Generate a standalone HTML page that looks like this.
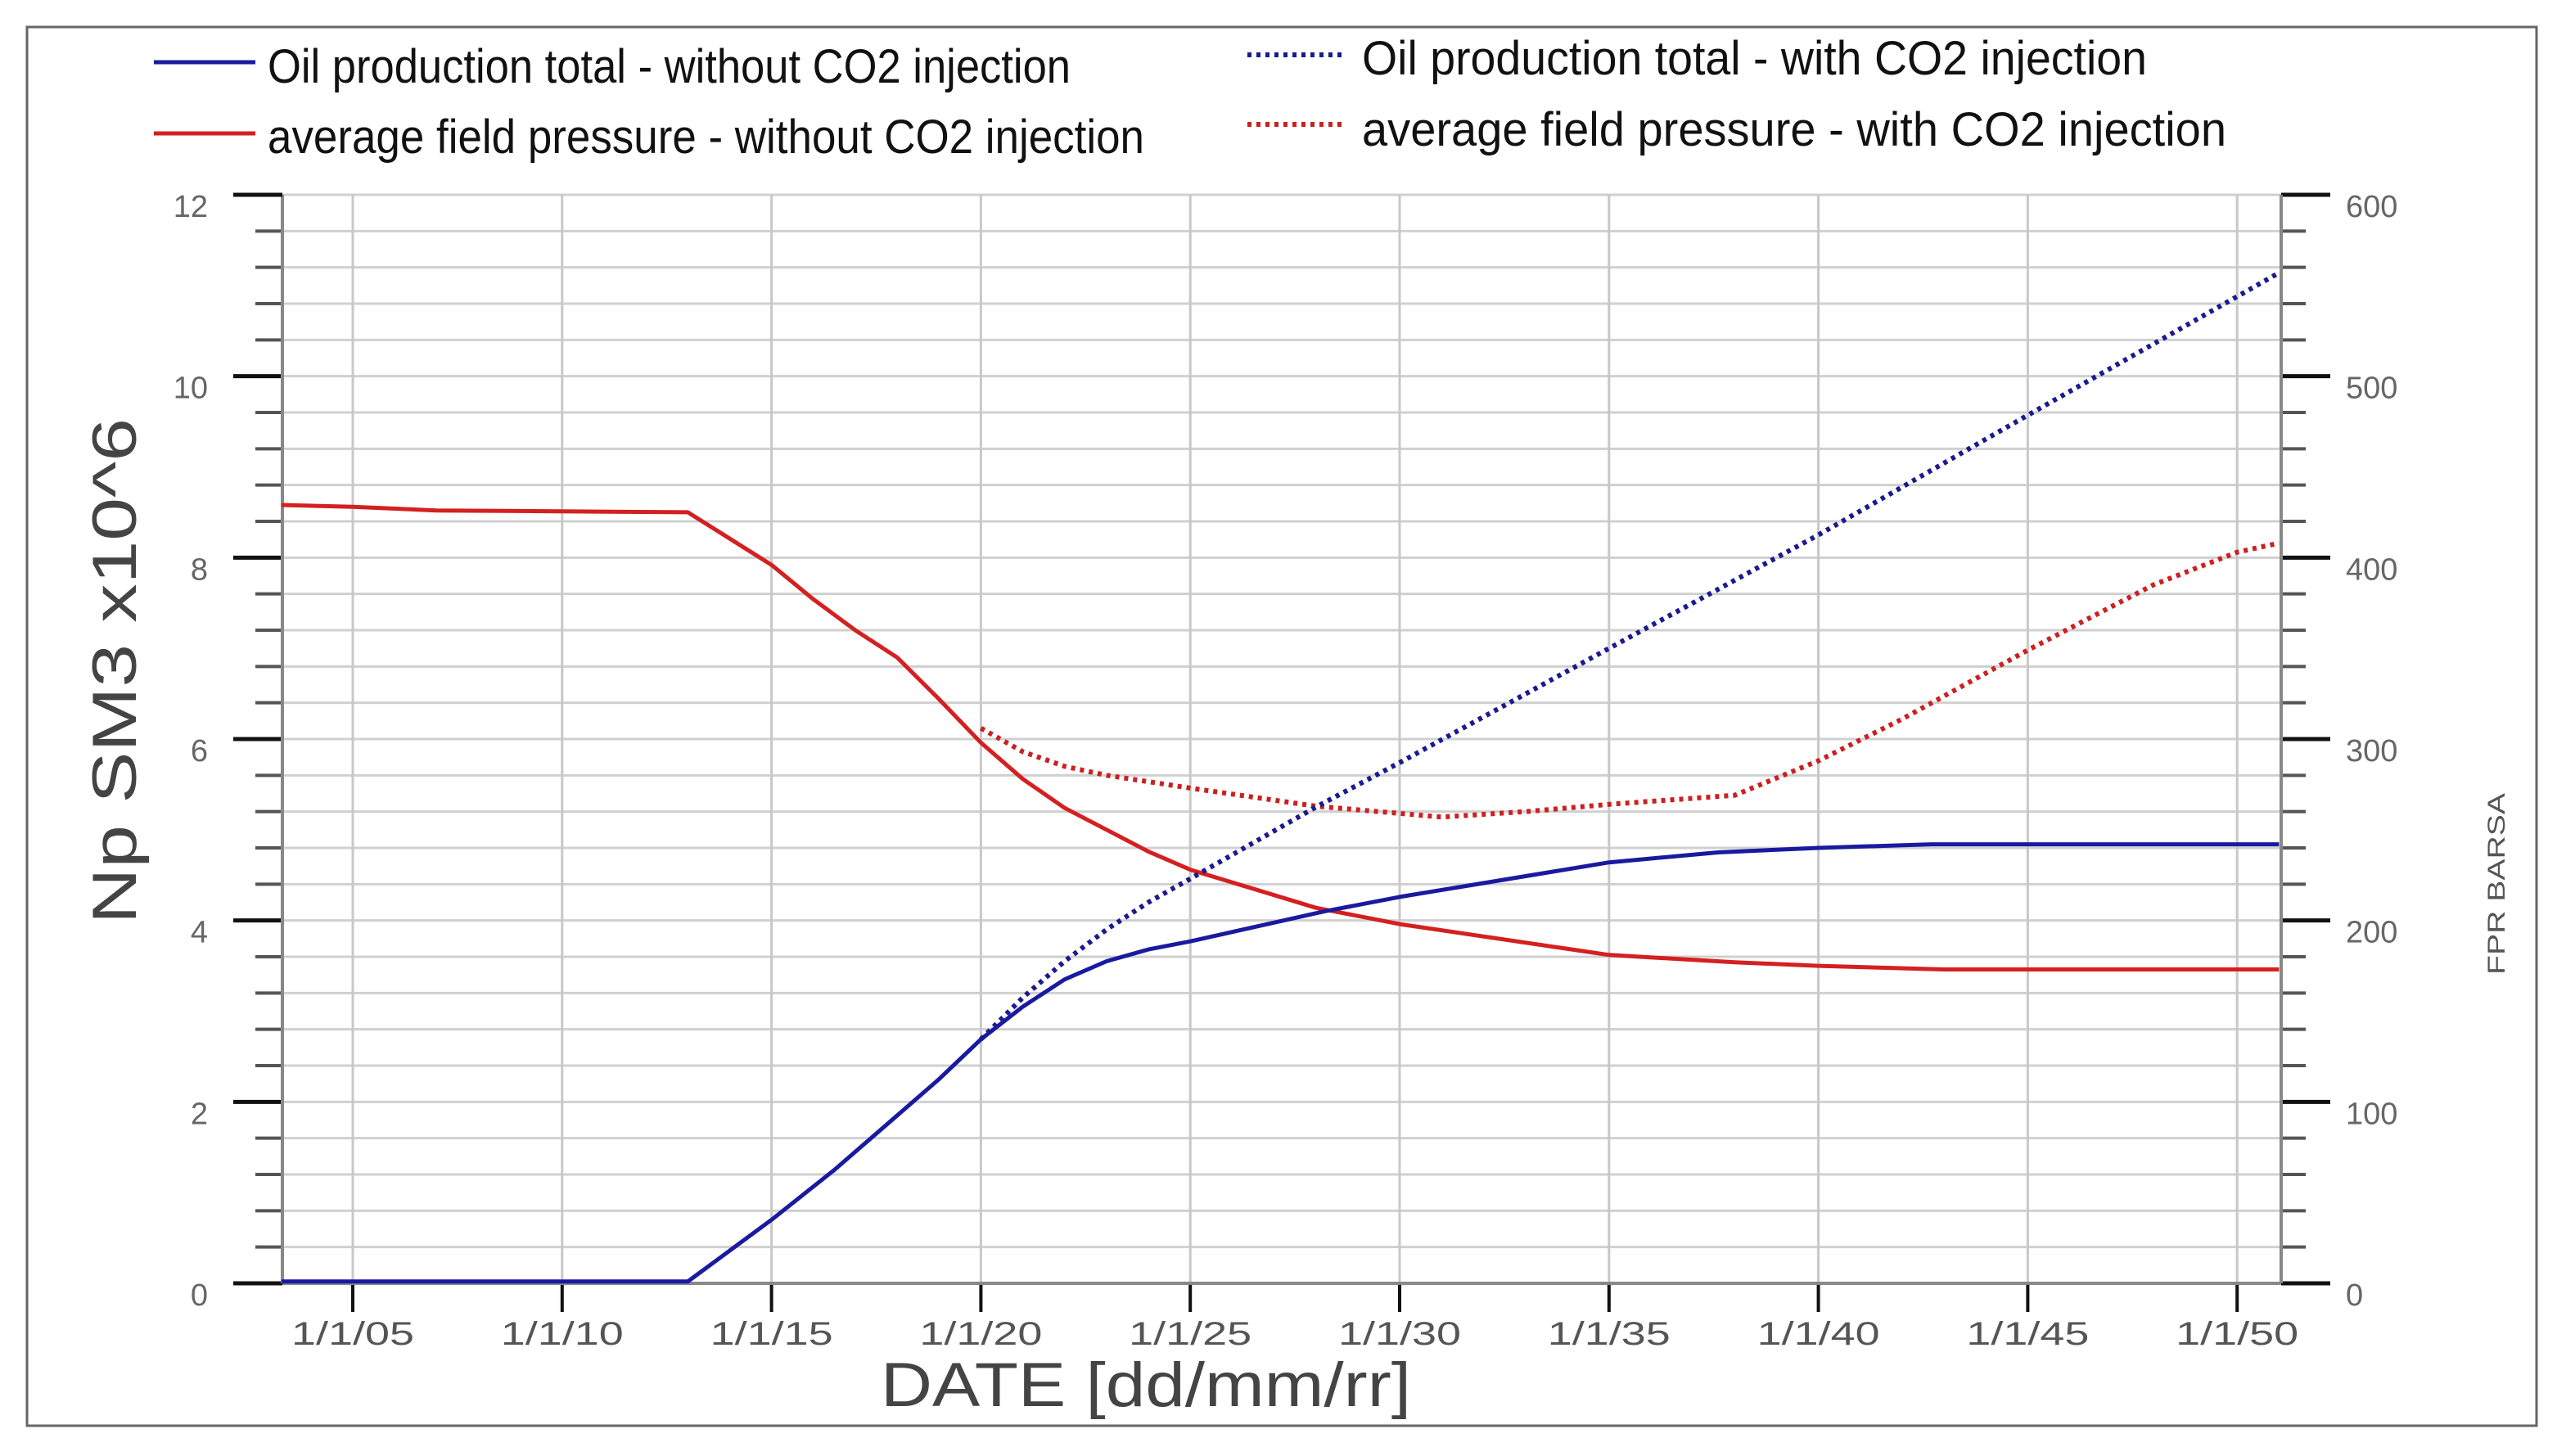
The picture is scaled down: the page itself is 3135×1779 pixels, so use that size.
<!DOCTYPE html>
<html><head><meta charset="utf-8"><style>
html,body{margin:0;padding:0;background:#fff;}
svg{display:block;}
text{font-family:"Liberation Sans",sans-serif;}
</style></head><body>
<svg id="chart" width="3135" height="1779" viewBox="0 0 3135 1779" xmlns="http://www.w3.org/2000/svg">
<rect x="33" y="33" width="3066" height="1709" fill="#fff" stroke="#666" stroke-width="3"/>
<g id="grid"></g>
<g id="axes"></g>
<g id="series"></g>
<g>
 <line x1="188" y1="76" x2="312" y2="76" stroke="#1a1aa0" stroke-width="5"/>
 <text x="327" y="101" font-size="58" textLength="981" lengthAdjust="spacingAndGlyphs" fill="#111">Oil production total - without CO2 injection</text>
 <line x1="188" y1="163" x2="312" y2="163" stroke="#d42020" stroke-width="5"/>
 <text x="327" y="187" font-size="58" textLength="1071" lengthAdjust="spacingAndGlyphs" fill="#111">average field pressure - without CO2 injection</text>
 <line x1="1524" y1="67" x2="1640" y2="67" stroke="#1a1a90" stroke-width="6" stroke-dasharray="5 6"/>
 <text x="1664" y="91" font-size="58" textLength="959" lengthAdjust="spacingAndGlyphs" fill="#111">Oil production total - with CO2 injection</text>
 <line x1="1524" y1="152" x2="1640" y2="152" stroke="#cc2020" stroke-width="6" stroke-dasharray="5 6"/>
 <text x="1664" y="178" font-size="58" textLength="1056" lengthAdjust="spacingAndGlyphs" fill="#111">average field pressure - with CO2 injection</text>
</g>
<text x="1400" y="1718" font-size="76" text-anchor="middle" textLength="648" lengthAdjust="spacingAndGlyphs" fill="#444">DATE [dd/mm/rr]</text>
<text transform="translate(166,820) rotate(-90)" font-size="76" text-anchor="middle" textLength="618" lengthAdjust="spacingAndGlyphs" fill="#444">Np SM3  x10^6</text>
<text transform="translate(3060,1080) rotate(-90)" font-size="30" text-anchor="middle" textLength="222" lengthAdjust="spacingAndGlyphs" fill="#555">FPR BARSA</text>
</svg>
<script>
var xTickYears = [2005,2010,2015,2020,2025,2030,2035,2040,2045,2050];
var xTickLabels = ["1/1/05","1/1/10","1/1/15","1/1/20","1/1/25","1/1/30","1/1/35","1/1/40","1/1/45","1/1/50"];
var yTicks = [0,2,4,6,8,10,12];
var y2Ticks = [0,100,200,300,400,500,600];
var oilWithoutYears = [2003.3,2013.0,2015,2016.5,2017.7,2019,2020,2021,2022,2023,2024,2025,2028.2,2030,2035,2037.6,2040,2042.7,2051];
var oilWithoutVals  = [0.02,0.02,0.7,1.25,1.73,2.25,2.69,3.05,3.35,3.55,3.68,3.77,4.1,4.26,4.64,4.75,4.8,4.84,4.84];
var oilWithYears = [2020,2021,2022,2023,2024,2025,2028,2030,2035,2040,2045,2051];
var oilWithVals  = [2.69,3.15,3.55,3.9,4.2,4.46,5.25,5.74,7.0,8.25,9.57,11.14];
var presWithoutYears = [2003.3,2005,2007,2013,2015,2016,2017,2018,2019,2020,2021,2022,2023,2024,2025,2028,2030,2035,2038,2040,2043,2051];
var presWithoutVals  = [429,428,426,425,396,377,360,345,322,298,278,262,250,238,228,207,198,181,177,175,173,173];
var presWithYears = [2020,2021,2022,2023,2025,2028,2031,2033,2035,2038,2040,2042,2045,2048,2050,2051];
var presWithVals  = [306,293,285,280,273,263,257,260,264,269,288,311,349,385,403,408];

var PL=345, PR=2787, PT=238, PB=1568;
function xs(yr){ return 431 + (yr-2005)*51.16; }
function ys(v){ return PB - v*(PB-PT)/12; }
function ys2(p){ return PB - p*(PB-PT)/600; }
var NS="http://www.w3.org/2000/svg";
function mk(tag, attrs, parent){ var e=document.createElementNS(NS,tag); for(var k in attrs) e.setAttribute(k,attrs[k]); parent.appendChild(e); return e; }
var grid=document.getElementById('grid'), axes=document.getElementById('axes'), series=document.getElementById('series');

for (var i=0;i<=30;i++){
  var v=i*0.4, y=ys(v);
  var gl=mk('line',{x1:PL,x2:PR,y1:y,y2:y,stroke:'#d0d0d0','stroke-width':3},grid);
  
  
  var major=(i%5===0);
  var tl=mk('line',{x1:major?285:312,x2:PL,y1:y,y2:y,stroke:major?'#111':'#555','stroke-width':major?5:4},axes);
  
  
  var tr=mk('line',{x1:PR,x2:major?2847:2817,y1:y,y2:y,stroke:major?'#111':'#555','stroke-width':major?5:4},axes);
  
  
}
yTicks.forEach(function(t){
  var e=mk('text',{x:254,y:ys(t)+27,'font-size':38,'text-anchor':'end',fill:'#666'},axes);
  e.textContent=t;
  
  
});
y2Ticks.forEach(function(t){
  var e=mk('text',{x:2866,y:ys2(t)+27,'font-size':38,fill:'#666'},axes);
  e.textContent=t;
  
  
});
xTickYears.forEach(function(yr,i){
  var x=xs(yr);
  var g=mk('line',{x1:x,x2:x,y1:PT,y2:PB,stroke:'#c8c8c8','stroke-width':3},grid);
  
  
  var t=mk('line',{x1:x,x2:x,y1:PB,y2:PB+35,stroke:'#111','stroke-width':4},axes);
  
  
  var l=mk('text',{x:x,y:PB+75,'font-size':40,'text-anchor':'middle',textLength:150,lengthAdjust:'spacingAndGlyphs',fill:'#555'},axes);
  l.textContent=xTickLabels[i];
  
  
});
var ax=[[PL,PT,PL,PB],[PR,PT,PR,PB],[PL,PB,PR,PB]];
ax.forEach(function(a){
  var e=mk('line',{x1:a[0],y1:a[1],x2:a[2],y2:a[3],stroke:'#888','stroke-width':4},axes);
  
  
});
var tp=mk('line',{x1:285,y1:PT,x2:PL,y2:PT,stroke:'#111','stroke-width':5},axes);



function draw(years, vals, yf, color, dashed, name){
  var d='';
  for (var i=0;i<years.length;i++){ d+=(i?'L':'M')+xs(years[i]).toFixed(1)+','+yf(vals[i]).toFixed(1); }
  var p=mk('path',{d:d,fill:'none',stroke:color,'stroke-width':dashed?6:5,'stroke-linejoin':'round'},series);
  if(dashed) p.setAttribute('stroke-dasharray','5 6');
  
  
}
draw(presWithoutYears,presWithoutVals,ys2,'#d42020',false,'pressure-without-line');
draw(presWithYears,presWithVals,ys2,'#cc2020',true,'pressure-with-line');
draw(oilWithoutYears,oilWithoutVals,ys,'#1a1aa0',false,'oil-without-line');
draw(oilWithYears,oilWithVals,ys,'#1a1a90',true,'oil-with-line');
</script>
</body></html>
